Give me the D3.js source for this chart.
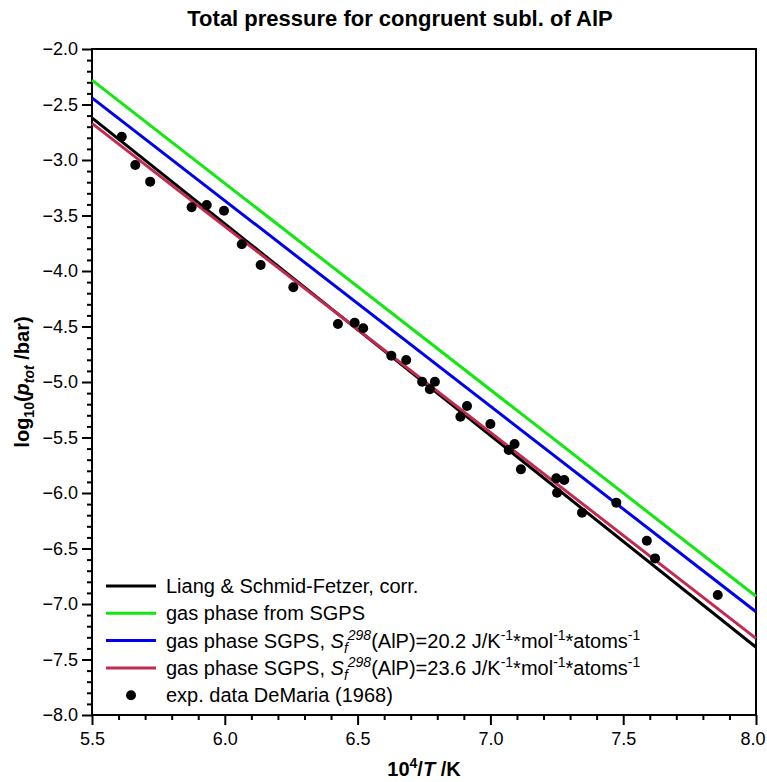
<!DOCTYPE html>
<html>
<head>
<meta charset="utf-8">
<script src="https://cdn.jsdelivr.net/npm/d3@7"></script>
<style>
  body { margin: 0; background: #fff; }
  text { font-family: Arial, "Liberation Sans", sans-serif; fill: #000; }
</style>
</head>
<body>
<div id="chart"></div>
<script>
// curve end points (straight lines in 1/T)
const lineX = [5.5, 8.0];
const liangY = [-2.62, -7.39];
const sgpsY = [-2.28, -6.93];
const sgps202Y = [-2.44, -7.07];
const sgps236Y = [-2.67, -7.31];

// exp. data DeMaria (1968)
const expX = [5.612, 5.663, 5.719, 5.875, 5.932, 5.997, 6.064, 6.135, 6.258, 6.426,
  6.489, 6.521, 6.627, 6.683, 6.743, 6.772, 6.791, 6.887, 6.912, 7.0,
  7.069, 7.091, 7.115, 7.248, 7.251, 7.278, 7.345, 7.474, 7.589, 7.62, 7.856];
const expY = [-2.79, -3.045, -3.195, -3.426, -3.405, -3.457, -3.759, -3.946, -4.147, -4.477,
  -4.466, -4.516, -4.763, -4.802, -4.997, -5.066, -4.997, -5.313, -5.216, -5.378,
  -5.613, -5.559, -5.787, -5.868, -5.997, -5.883, -6.177, -6.087, -6.43, -6.589, -6.919];

const xMajor = [5.5, 6.0, 6.5, 7.0, 7.5, 8.0];
const yMajor = [-2.0, -2.5, -3.0, -3.5, -4.0, -4.5, -5.0, -5.5, -6.0, -6.5, -7.0, -7.5, -8.0];

const width = 767;
const height = 782;

const svg = d3.select('#chart')
  .append('svg')
  .attr('width', width)
  .attr('height', height);

const x = d3.scaleLinear().domain([5.5, 8.0]).range([92, 756]);
const y = d3.scaleLinear().domain([-8, -2]).range([715, 49]);

const xMinor = d3.range(55, 81).map((d) => d / 10).filter((d) => !xMajor.includes(d));
const yMinor = d3.range(-80, -19).map((d) => d / 10).filter((d) => !yMajor.includes(d));

// minor ticks
svg.append('g')
  .attr('transform', `translate(0,${y(-8)})`)
  .call(d3.axisBottom(x).tickValues(xMinor).tickSize(5).tickFormat(''))
  .call((g) => g.select('.domain').remove());
svg.append('g')
  .attr('transform', `translate(${x(5.5)},0)`)
  .call(d3.axisLeft(y).tickValues(yMinor).tickSize(5).tickFormat(''))
  .call((g) => g.select('.domain').remove());

// major ticks + labels
const xAxis = svg.append('g')
  .attr('transform', `translate(0,${y(-8)})`)
  .call(d3.axisBottom(x).tickValues(xMajor).tickSize(10).tickPadding(7).tickFormat(d3.format('.1f')));
const yAxis = svg.append('g')
  .attr('transform', `translate(${x(5.5)},0)`)
  .call(d3.axisLeft(y).tickValues(yMajor).tickSize(10).tickPadding(4).tickFormat(d3.format('.1f')));

[xAxis, yAxis].forEach((g) => {
  g.selectAll('text').style('font-size', '18px').attr('fill', '#000');
  g.select('.domain').remove();
});
// last x label would run off the right edge
xAxis.selectAll('.tick text').filter((d) => d === 8.0).attr('text-anchor', 'end').attr('dx', 9);
svg.selectAll('.tick line').attr('stroke', '#000').attr('stroke-width', 2);

// frame
svg.append('rect')
  .attr('x', x(5.5))
  .attr('y', y(-2))
  .attr('width', x(8) - x(5.5))
  .attr('height', y(-8) - y(-2))
  .attr('fill', 'none')
  .attr('stroke', '#000')
  .attr('stroke-width', 2);

// curves
const curves = [
  { ys: liangY, color: '#000000' },
  { ys: sgpsY, color: '#10e810' },
  { ys: sgps202Y, color: '#0000f0' },
  { ys: sgps236Y, color: '#c32a52' },
];
const line = d3.line().x((d) => x(d[0])).y((d) => y(d[1]));
svg.append('g')
  .selectAll('path')
  .data(curves)
  .join('path')
  .attr('d', (c) => line(lineX.map((v, i) => [v, c.ys[i]])))
  .attr('fill', 'none')
  .attr('stroke', (c) => c.color)
  .attr('stroke-width', 3);

svg.append('g')
  .selectAll('circle')
  .data(expX.map((v, i) => [v, expY[i]]))
  .join('circle')
  .attr('cx', (d) => x(d[0]))
  .attr('cy', (d) => y(d[1]))
  .attr('r', 5)
  .attr('fill', '#000');

// text with sub/superscripts
function richText(sel, parts, size) {
  let cur = 0;
  parts.forEach((p) => {
    let shift = 0;
    let fs = size;
    if (p.sup) { shift = -0.4 * size; fs = size * 0.7; }
    if (p.sub) { shift = 0.25 * size; fs = size * 0.7; }
    sel.append('tspan')
      .attr('dy', shift - cur)
      .style('font-size', fs + 'px')
      .style('font-style', p.it ? 'italic' : null)
      .text(p.t);
    cur = shift;
  });
}

// legend
const legendRows = [
  { color: '#000000', parts: [{ t: 'Liang & Schmid-Fetzer, corr.' }] },
  { color: '#10e810', parts: [{ t: 'gas phase from SGPS' }] },
  { color: '#0000f0', parts: [{ t: 'gas phase SGPS, ' }, { t: 'S', it: true }, { t: 'f', it: true, sub: true },
    { t: '298', it: true, sup: true }, { t: '(AlP)=20.2 J/K' }, { t: '-1', sup: true }, { t: '*mol' },
    { t: '-1', sup: true }, { t: '*atoms' }, { t: '-1', sup: true }] },
  { color: '#c32a52', parts: [{ t: 'gas phase SGPS, ' }, { t: 'S', it: true }, { t: 'f', it: true, sub: true },
    { t: '298', it: true, sup: true }, { t: '(AlP)=23.6 J/K' }, { t: '-1', sup: true }, { t: '*mol' },
    { t: '-1', sup: true }, { t: '*atoms' }, { t: '-1', sup: true }] },
  { dot: true, parts: [{ t: 'exp. data DeMaria (1968)' }] },
];
const legend = svg.append('g');
legendRows.forEach((r, i) => {
  const ly = 586 + i * 27.3;
  if (r.dot) {
    legend.append('circle').attr('cx', 131).attr('cy', ly).attr('r', 5).attr('fill', '#000');
  } else {
    legend.append('line').attr('x1', 106).attr('x2', 156).attr('y1', ly).attr('y2', ly)
      .attr('stroke', r.color).attr('stroke-width', 3);
  }
  const t = legend.append('text').attr('x', 166).attr('y', ly + 7);
  richText(t, r.parts, 20);
});

// title
svg.append('text')
  .attr('x', 400)
  .attr('y', 26)
  .attr('text-anchor', 'middle')
  .style('font-size', '22px')
  .style('font-weight', 'bold')
  .text('Total pressure for congruent subl. of AlP');

// x axis title
const xt = svg.append('text')
  .attr('x', 424)
  .attr('y', 776)
  .attr('text-anchor', 'middle')
  .style('font-weight', 'bold');
richText(xt, [{ t: '10' }, { t: '4', sup: true }, { t: '/' }, { t: 'T', it: true }, { t: ' /K' }], 20);

// y axis title
const yt = svg.append('text')
  .attr('transform', `translate(29,${(y(-2) + y(-8)) / 2}) rotate(-90)`)
  .attr('text-anchor', 'middle')
  .style('font-weight', 'bold');
richText(yt, [{ t: 'log' }, { t: '10', sub: true }, { t: '(' }, { t: 'p', it: true }, { t: 'tot', it: true, sub: true },
  { t: ' /bar)' }], 20);
</script>
</body>
</html>
